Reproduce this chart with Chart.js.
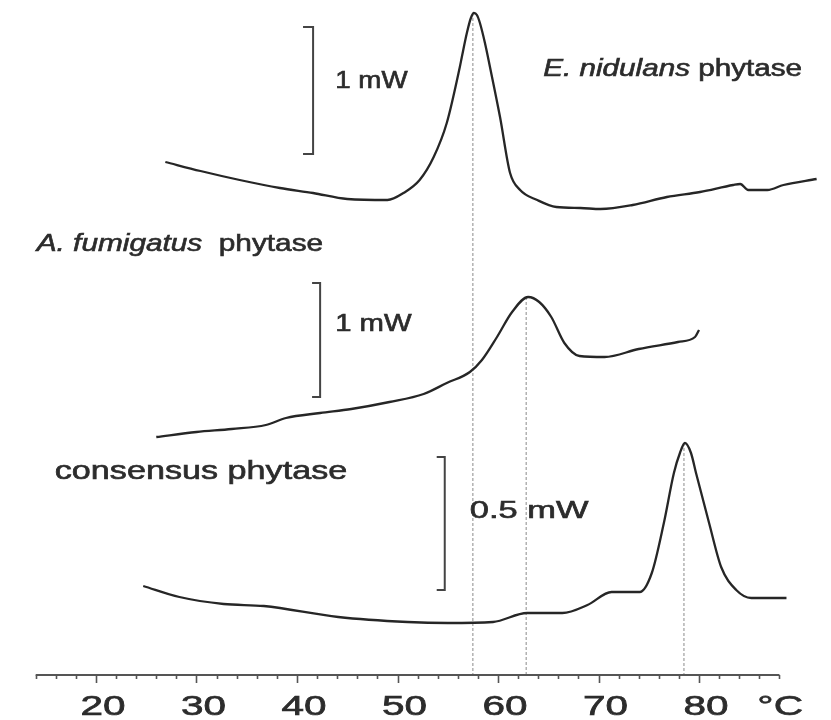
<!DOCTYPE html>
<html>
<head>
<meta charset="utf-8">
<script src="https://cdn.jsdelivr.net/npm/chart.js@4.4.0/dist/chart.umd.min.js"></script>
<style>
html,body{margin:0;padding:0;background:#fff;}
#wrap{width:831px;height:720px;position:relative;}
</style>
</head>
<body>
<div id="wrap"><canvas id="c" width="831" height="720"></canvas></div>
<script>
// Temperature (°C) and vertically offset heat-flow signal (arbitrary offset units)
const tempNidulans = [26.9, 30.4, 34.3, 38.3, 41.6, 45.0, 49.0, 50.6, 52.2, 53.6, 54.9, 56.2, 56.4, 56.9, 57.3, 57.6, 57.9, 58.2, 58.7, 59.2, 60.2, 61.2, 62.2, 63.9, 65.8, 68.2, 70.2, 73.4, 76.8, 80.1, 83.4, 84.1, 84.9, 86.8, 88.4, 91.7];
const sigNidulans  = [513, 504, 495, 487, 482, 476, 475, 482, 495, 518, 552, 608, 618, 642, 657, 662, 660, 652, 632, 608, 558, 502, 485, 475, 468, 467, 466, 470, 478, 483, 490, 491, 485, 485, 490, 496];

const tempFumigatus = [26.0, 30.0, 33.5, 36.9, 38.9, 42.3, 45.4, 49.2, 52.6, 54.9, 57.2, 58.4, 59.9, 61.4, 63.0, 64.1, 65.3, 66.6, 68.1, 70.6, 74.0, 77.9, 79.6, 80.0];
const sigFumigatus  = [238, 243, 246, 250, 257, 262, 266, 273, 281, 292, 303, 315, 338, 363, 378, 373, 358, 332, 319, 318, 326, 333, 338, 345];

const tempConsensus = [24.7, 28.3, 32.7, 36.7, 44.1, 51.0, 55.0, 59.5, 62.9, 66.4, 68.9, 71.3, 74.1, 75.3, 76.5, 77.5, 78.1, 78.6, 79.2, 79.7, 81.0, 82.2, 83.7, 85.2, 88.7];
const sigConsensus  = [89, 78, 71, 69, 58, 53, 52, 53, 62, 62, 70, 83, 83, 102, 152, 202, 222, 232, 222, 202, 152, 108, 85, 77, 77];

// Peak temperatures (dashed guide lines) and the signal level of each peak
const peakTemps  = [57.5, 62.8, 78.5];
const peakLevels = [662, 378, 232];

// Scale bars: 1 mW, 1 mW, 0.5 mW
const barLabels = ['1 mW', '1 mW', '0.5 mW'];
const barTemp   = [41.6, 42.3, 54.7];
const barTick   = [40.6, 41.5, 53.9];
const barTop    = [648, 392, 218];
const barBottom = [521, 278, 85];

// x axis
const axisMin = 14, axisMax = 88, minorStep = 2;
const tickLabels = [20, 30, 40, 50, 60, 70, 80];
const unitLabel = '°C';

const FONT = '"Liberation Sans", Arial, sans-serif';
const INK = '#262626';
const TEXT = '#2c2c2c';

const toPts = (xs, ys) => xs.map((x, i) => ({x, y: ys[i]}));

const datasets = [
  {data: toPts(tempNidulans, sigNidulans)},
  {data: toPts(tempFumigatus, sigFumigatus)},
  {data: toPts(tempConsensus, sigConsensus)}
].map(d => Object.assign(d, {borderColor: INK, borderWidth: 2.3, pointRadius: 0, cubicInterpolationMode: 'monotone', fill: false}));

peakTemps.forEach((t, i) => {
  datasets.push({data: [{x: t, y: peakLevels[i]}, {x: t, y: 0}], borderColor: '#8a8a8a', borderWidth: 1, borderDash: [3, 2], pointRadius: 0, tension: 0, fill: false});
});
barTemp.forEach((t, i) => {
  datasets.push({data: [{x: barTick[i], y: barTop[i]}, {x: t, y: barTop[i]}, {x: t, y: barBottom[i]}, {x: barTick[i], y: barBottom[i]}],
    borderColor: '#444', borderWidth: 2, pointRadius: 0, tension: 0, fill: false});
});

// Text annotations (data coordinates: left T, right T, signal at text centre)
const annotations = [
  {parts: [{t: 'E. nidulans', i: true}, {t: ' phytase'}], l: 64.5, r: 90.25, y: 605, size: 23},
  {parts: [{t: 'A. fumigatus', i: true}, {t: '  phytase'}], l: 14.1, r: 42.6, y: 431, size: 24},
  {parts: [{t: 'consensus phytase'}], l: 15.9, r: 45.0, y: 203, size: 25},
  {parts: [{t: barLabels[0]}], l: 43.8, r: 51.0, y: 593, size: 23},
  {parts: [{t: barLabels[1]}], l: 43.8, r: 51.4, y: 350, size: 23},
  {parts: [{t: barLabels[2]}], l: 57.2, r: 69.0, y: 163, size: 23}
];

function drawStretched(ctx, parts, xL, xR, cy, size) {
  ctx.save();
  let total = 0;
  parts.forEach(p => { ctx.font = (p.i ? 'italic ' : '') + size + 'px ' + FONT; p.w = ctx.measureText(p.t).width; total += p.w; });
  const sx = (xR - xL) / total;
  ctx.translate(xL, cy);
  ctx.scale(sx, 1);
  ctx.textBaseline = 'middle';
  ctx.fillStyle = TEXT;
  ctx.strokeStyle = TEXT;
  ctx.lineWidth = 0.6;
  let x = 0;
  parts.forEach(p => { ctx.font = (p.i ? 'italic ' : '') + size + 'px ' + FONT; ctx.fillText(p.t, x, 0); ctx.strokeText(p.t, x, 0); x += p.w; });
  ctx.restore();
}

const decor = {
  id: 'decor',
  afterDraw(chart) {
    const ctx = chart.ctx, xs = chart.scales.x, ys = chart.scales.y;
    const y0 = ys.getPixelForValue(0);
    ctx.save();
    ctx.strokeStyle = '#555';
    ctx.lineWidth = 1.8;
    ctx.beginPath();
    ctx.moveTo(xs.getPixelForValue(axisMin), y0);
    ctx.lineTo(xs.getPixelForValue(axisMax), y0);
    ctx.stroke();
    ctx.lineWidth = 1.6;
    for (let t = axisMin; t <= axisMax + 1e-9; t += minorStep) {
      const px = Math.round(xs.getPixelForValue(t)) + 0.5;
      const major = tickLabels.includes(t);
      ctx.beginPath();
      ctx.moveTo(px, y0);
      ctx.lineTo(px, y0 + (major ? 8 : 4));
      ctx.stroke();
    }
    ctx.restore();
    // tick labels
    const size = 28;
    ctx.save();
    ctx.font = size + 'px ' + FONT;
    const w20 = ctx.measureText('20').width;
    const sx = 45 / w20;
    ctx.fillStyle = TEXT;
    ctx.strokeStyle = TEXT;
    ctx.lineWidth = 0.7;
    ctx.textBaseline = 'middle';
    ctx.textAlign = 'center';
    tickLabels.forEach(t => {
      const px = xs.getPixelForValue(t + 0.7);
      ctx.save();
      ctx.translate(px, y0 + 32);
      ctx.scale(sx, 1);
      ctx.fillText(String(t), 0, 0);
      ctx.strokeText(String(t), 0, 0);
      ctx.restore();
    });
    ctx.restore();
    drawStretched(ctx, [{t: unitLabel}], xs.getPixelForValue(85.8), xs.getPixelForValue(90.35), y0 + 32, 28);
    annotations.forEach(a => drawStretched(ctx, a.parts, xs.getPixelForValue(a.l), xs.getPixelForValue(a.r), ys.getPixelForValue(a.y), a.size));
  }
};

new Chart(document.getElementById('c').getContext('2d'), {
  type: 'line',
  data: {datasets},
  options: {
    responsive: false,
    animation: false,
    devicePixelRatio: 1,
    layout: {padding: {left: 0, right: 0, top: 0, bottom: 45}},
    plugins: {legend: {display: false}, tooltip: {enabled: false}},
    scales: {
      x: {type: 'linear', min: 10.45, max: 93.13, display: false},
      y: {type: 'linear', min: 0, max: 675, display: false}
    }
  },
  plugins: [decor]
});
</script>
</body>
</html>
